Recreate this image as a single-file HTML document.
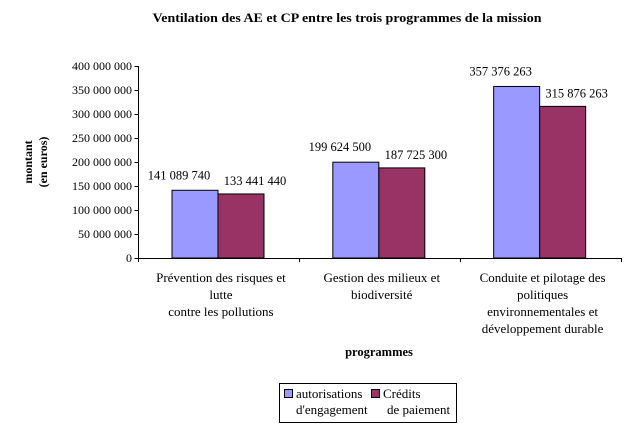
<!DOCTYPE html>
<html><head><meta charset="utf-8"><style>
body{margin:0;background:#fff;font-family:"Liberation Serif",serif;}
text{font-family:"Liberation Serif",serif;fill:#000}
</style></head><body>
<svg width="626" height="431">
<text x="347" y="22" font-size="13" font-weight="bold" text-anchor="middle" textLength="389" lengthAdjust="spacingAndGlyphs">Ventilation des AE et CP entre les trois programmes de la mission</text>
<g id="plot"></g>
<text transform="translate(38,162) rotate(-90)" font-size="12" font-weight="bold" text-anchor="middle"><tspan x="0" dy="-6">montant</tspan><tspan x="0" dy="15">(en euros)</tspan></text>
<text x="379" y="356" font-size="12.5" font-weight="bold" text-anchor="middle">programmes</text>
<g>
<rect x="279.5" y="383.5" width="177" height="39" fill="#fff" stroke="#000"/>
<rect x="284.5" y="389.5" width="8" height="8" fill="#9999ff" stroke="#000"/>
<text x="296" y="398" font-size="13">autorisations</text>
<text x="296" y="414" font-size="13">d'engagement</text>
<rect x="371.5" y="389.5" width="8" height="8" fill="#993366" stroke="#000"/>
<text x="383" y="398" font-size="13">Crédits</text>
<text x="387" y="414" font-size="13">de paiement</text>
</g>
</svg>
<script>
const categories=[["Prévention des risques et","lutte","contre les pollutions"],["Gestion des milieux et","biodiversité"],["Conduite et pilotage des","politiques","environnementales et","développement durable"]];
const ae=[141089740,199624500,357376263];
const cp=[133441440,187725300,315876263];
const yTicks=[0,50000000,100000000,150000000,200000000,250000000,300000000,350000000,400000000];
const NS="http://www.w3.org/2000/svg";
const g=document.getElementById('plot');
const x0=138.5,x1=621,yB=258,yT=66,yMax=400000000;
const gw=(x1-x0)/categories.length;
function y(v){return yB-(v/yMax)*(yB-yT);}
function fmt(v){return String(Math.round(v)).replace(/\B(?=(\d{3})+(?!\d))/g,' ');}
function mk(t,a,txt){const e=document.createElementNS(NS,t);for(const k in a)e.setAttribute(k,a[k]);if(txt!==undefined)e.textContent=txt;g.appendChild(e);return e;}
yTicks.forEach(v=>{
 const l=mk('line',{x1:x0-4,x2:x0,y1:Math.round(y(v))+0.5,y2:Math.round(y(v))+0.5,stroke:'#000'});
 
 
 const t=mk('text',{x:132,y:y(v)+4,'font-size':12,'text-anchor':'end'},fmt(v));
 
 
});
categories.forEach((c,i)=>{
 const gx=x0+gw*i;
 const bx=gx+33.5;
 [[ae[i],'#9999ff',0,-16,-11],[cp[i],'#993366',46,14,-9]].forEach(([v,col,off,dx,dy],j)=>{
  const r=mk('rect',{x:bx+off,y:y(v),width:46,height:yB-y(v),fill:col,stroke:'#000'});
  
  
  const t=mk('text',{x:bx+off+23+dx,y:y(v)+dy,'font-size':12.5,'text-anchor':'middle'},fmt(v));
  
  
 });
 const tk=mk('line',{x1:Math.round(gx+gw)+0.5,x2:Math.round(gx+gw)+0.5,y1:yB,y2:yB+4,stroke:'#000'});
 
 
 c.forEach((s,k)=>{
  const t=mk('text',{x:gx+gw/2+2,y:282+k*17,'font-size':13,'text-anchor':'middle'},s);
  
  
 });
});
const ya=mk('line',{x1:x0,x2:x0,y1:yT,y2:yB,stroke:'#000'});


const xa=mk('line',{x1:x0-4,x2:x1,y1:yB+0.5,y2:yB+0.5,stroke:'#000'});


const t0=mk('line',{x1:x0,x2:x0,y1:yB,y2:yB+4,stroke:'#000'});


</script>
</body></html>
